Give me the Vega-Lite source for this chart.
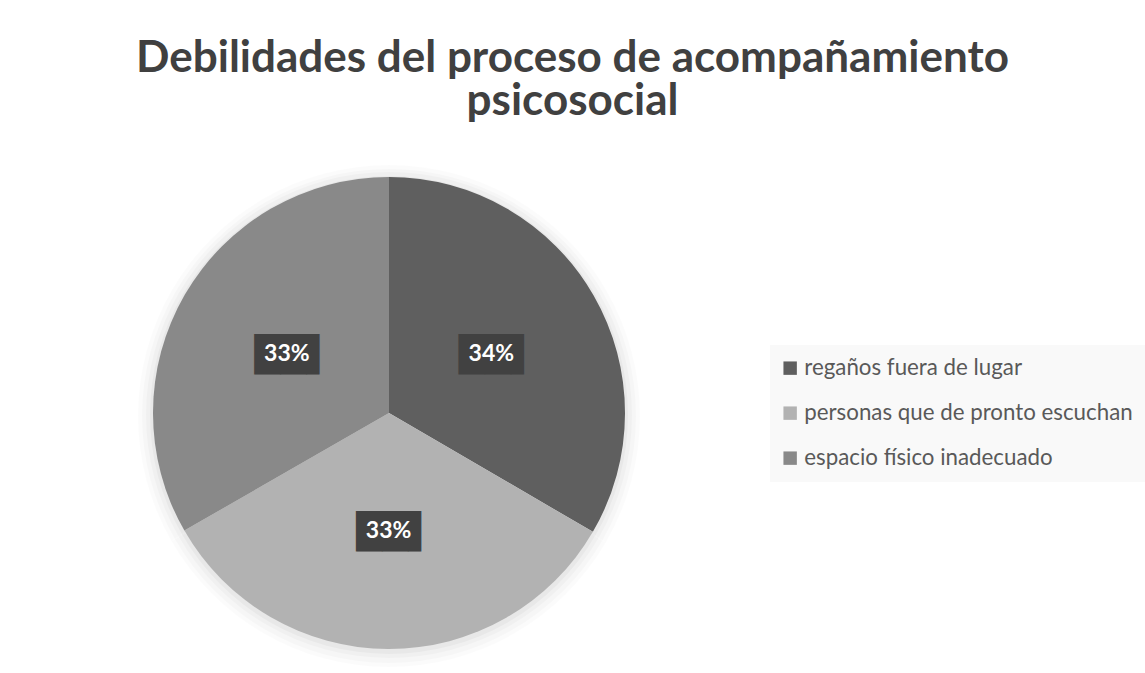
{
  "$schema": "https://vega.github.io/schema/vega-lite/v6.json",
  "width": 472,
  "height": 472,
  "autosize": {"type": "none"},
  "padding": {"left": 153, "top": 177, "right": 520, "bottom": 24},
  "background": "white",
  "title": {
    "text": ["Debilidades del proceso de acompañamiento", "psicosocial"],
    "font": "Lato",
    "fontSize": 44,
    "fontWeight": "bold",
    "color": "#404040",
    "anchor": "middle",
    "dx": 183.5,
    "offset": 41,
    "lineHeight": 43
  },
  "data": {
    "values": [
      {"categoria": "regaños fuera de lugar", "valor": 33.4, "etiqueta": "34%", "orden": 1},
      {"categoria": "personas que de pronto escuchan", "valor": 33.3, "etiqueta": "33%", "orden": 2},
      {"categoria": "espacio físico inadecuado", "valor": 33.3, "etiqueta": "33%", "orden": 3}
    ]
  },
  "encoding": {
    "theta": {"field": "valor", "type": "quantitative", "stack": true},
    "order": {"field": "orden", "type": "quantitative"}
  },
  "layer": [
    {"mark": {"type": "arc", "outerRadius": 251, "color": "black", "opacity": 0.015, "yOffset": 3}},
    {"mark": {"type": "arc", "outerRadius": 247, "color": "black", "opacity": 0.02, "yOffset": 3}},
    {"mark": {"type": "arc", "outerRadius": 243, "color": "black", "opacity": 0.025, "yOffset": 2}},
    {"mark": {"type": "arc", "outerRadius": 239, "color": "black", "opacity": 0.03, "yOffset": 2}},
    {
      "mark": {"type": "arc", "outerRadius": 236},
      "encoding": {
        "color": {
          "field": "categoria",
          "type": "nominal",
          "sort": ["regaños fuera de lugar", "personas que de pronto escuchan", "espacio físico inadecuado"],
          "scale": {
            "domain": ["regaños fuera de lugar", "personas que de pronto escuchan", "espacio físico inadecuado"],
            "range": ["#5f5f5f", "#b2b2b2", "#898989"]
          },
          "legend": {
            "orient": "none",
            "legendX": 617,
            "legendY": 168,
            "title": null,
            "fillColor": "#f9f9f9",
            "padding": 12,
            "symbolType": "square",
            "symbolSize": 180,
            "symbolOffset": -3,
            "symbolStrokeWidth": 0,
            "labelFont": "Lato",
            "labelFontSize": 22.3,
            "labelColor": "#595959",
            "rowPadding": 22,
            "labelOffset": 3,
            "labelLimit": 0
          }
        }
      }
    },
    {
      "mark": {"type": "text", "radius": 118, "font": "DejaVu Sans", "fontSize": 34, "color": "#414141", "baseline": "middle", "align": "center", "dy": 2, "dx": 6.5},
      "encoding": {"text": {"value": "██▌"}}
    },
    {
      "mark": {"type": "text", "radius": 118, "font": "Lato", "fontWeight": "bold", "fontSize": 23, "color": "white", "baseline": "middle", "align": "center"},
      "encoding": {"text": {"field": "etiqueta"}}
    }
  ],
  "config": {"view": {"stroke": null}}
}
